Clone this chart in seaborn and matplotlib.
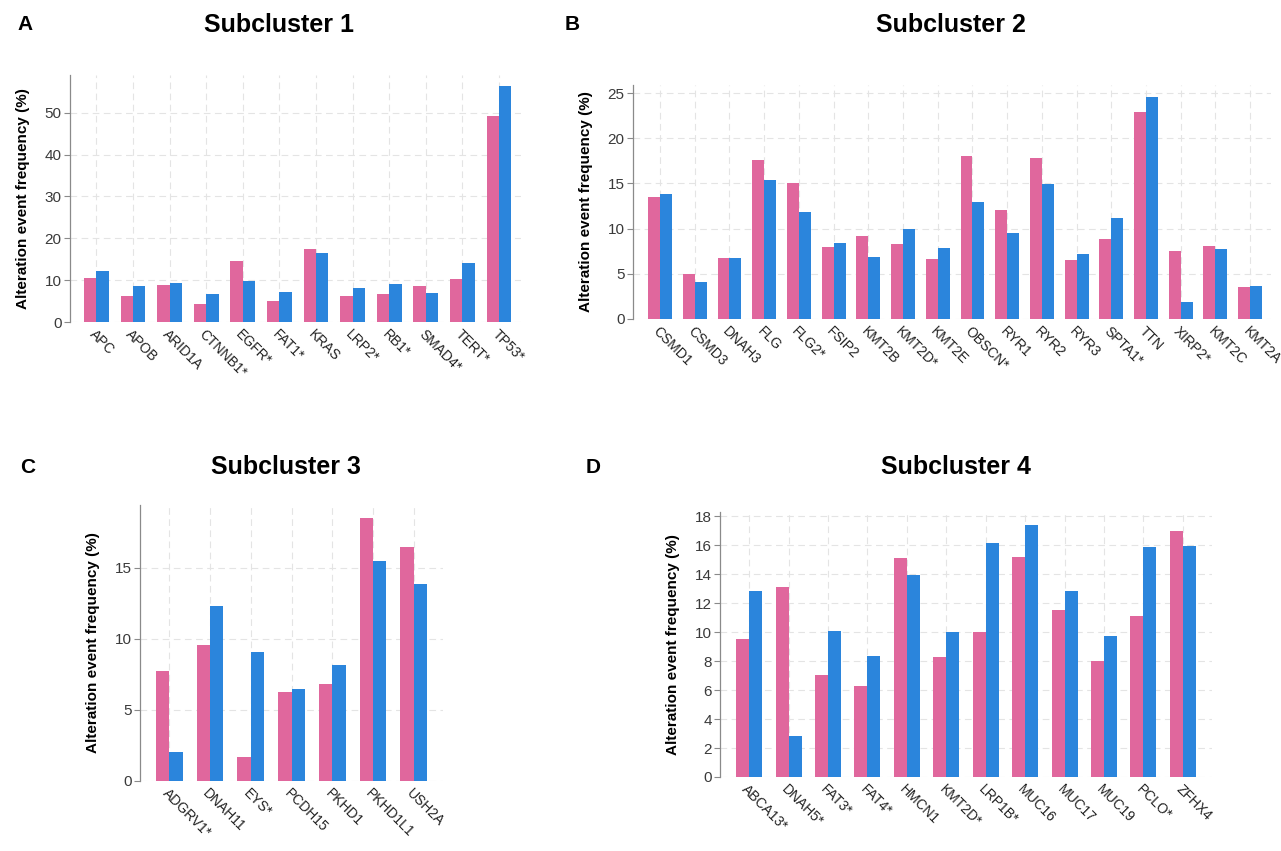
import matplotlib
matplotlib.use("Agg")
import matplotlib.pyplot as plt
import seaborn as sns
import pandas as pd

sns.set_theme(style="white")
plt.rcParams['font.family'] = ['Liberation Sans', 'DejaVu Sans']

PINK = '#E0679D'
BLUE = '#2B85DC'
groups = ['Group 1', 'Group 2']

# ---- data ----
genes1 = ['APC', 'APOB', 'ARID1A', 'CTNNB1*', 'EGFR*', 'FAT1*', 'KRAS', 'LRP2*', 'RB1*', 'SMAD4*', 'TERT*', 'TP53*']
pink1 = [10.6, 6.2, 8.9, 4.3, 14.6, 5.0, 17.4, 6.3, 6.7, 8.6, 10.2, 49.3]
blue1 = [12.1, 8.7, 9.3, 6.6, 9.8, 7.2, 16.5, 8.2, 9.1, 7.0, 14.0, 56.3]

genes2 = ['CSMD1', 'CSMD3', 'DNAH3', 'FLG', 'FLG2*', 'FSIP2', 'KMT2B', 'KMT2D*', 'KMT2E', 'OBSCN*',
          'RYR1', 'RYR2', 'RYR3', 'SPTA1*', 'TTN', 'XIRP2*', 'KMT2C', 'KMT2A']
pink2 = [13.5, 5.0, 6.7, 17.6, 15.1, 8.0, 9.2, 8.3, 6.65, 18.0, 12.1, 17.8, 6.5, 8.8, 22.9, 7.5, 8.1, 3.5]
blue2 = [13.8, 4.1, 6.7, 15.4, 11.8, 8.4, 6.9, 10.0, 7.9, 12.9, 9.5, 14.9, 7.2, 11.2, 24.6, 1.9, 7.8, 3.6]

genes3 = ['ADGRV1*', 'DNAH11', 'EYS*', 'PCDH15', 'PKHD1', 'PKHD1L1', 'USH2A']
pink3 = [7.7, 9.56, 1.7, 6.26, 6.83, 18.46, 16.46]
blue3 = [2.05, 12.27, 9.1, 6.47, 8.17, 15.49, 13.87]

genes4 = ['ABCA13*', 'DNAH5*', 'FAT3*', 'FAT4*', 'HMCN1', 'KMT2D*', 'LRP1B*', 'MUC16', 'MUC17', 'MUC19', 'PCLO*', 'ZFHX4']
pink4 = [9.52, 13.1, 7.03, 6.25, 15.13, 8.28, 10.0, 15.17, 11.54, 7.98, 11.13, 16.97]
blue4 = [12.83, 2.85, 10.09, 8.39, 13.93, 9.98, 16.14, 17.4, 12.83, 9.77, 15.9, 15.95]

yticks1 = [0, 10, 20, 30, 40, 50]
yticks2 = [0, 5, 10, 15, 20, 25]
yticks3 = [0, 5, 10, 15]
yticks4 = [0, 2, 4, 6, 8, 10, 12, 14, 16, 18]

W, H = 1281, 851
fig = plt.figure(figsize=(W / 100, H / 100), dpi=100)


def make_ax(left, right, top, bottom):
    return fig.add_axes([left / W, 1 - bottom / H, (right - left) / W, (bottom - top) / H])


def panel(ax, genes, pink, blue, yticks, ylim, xlim, width):
    df = pd.DataFrame({
        'gene': genes * 2,
        'value': pink + blue,
        'group': [groups[0]] * len(genes) + [groups[1]] * len(genes),
    })
    sns.barplot(data=df, x='gene', y='value', hue='group', palette=[PINK, BLUE],
                width=width, saturation=1, legend=False, ax=ax, edgecolor='none', linewidth=0)
    ax.set_ylim(*ylim)
    ax.set_xlim(*xlim)
    ax.set_yticks(yticks)
    ax.set_xlabel('')
    ax.set_ylabel('Alteration event frequency (%)', fontsize=11, fontweight='bold', color='black')
    ax.yaxis.set_label_coords(-40 / (ax.get_position().width * W), 0.5)
    for s in ['top', 'right', 'bottom']:
        ax.spines[s].set_visible(False)
    ax.spines['left'].set_color('#8a8a8a')
    ax.spines['left'].set_linewidth(0.9)
    ax.grid(True, which='major', axis='both', linestyle=(0, (6, 4)), color='#e4e4e4', linewidth=0.8)
    ax.set_axisbelow(True)
    ax.tick_params(axis='y', which='major', left=True, length=4, width=0.8, color='#8a8a8a',
                   labelsize=11, labelcolor='#3a3a3a', pad=2)
    ax.tick_params(axis='x', which='major', bottom=False, length=0, labelsize=10,
                   labelcolor='#222222', pad=4)
    for lab in ax.get_xticklabels():
        lab.set_rotation(-45)
        lab.set_ha('left')
        lab.set_va('top')
        lab.set_rotation_mode('anchor')


axA = make_ax(70, 521, 75, 322)
panel(axA, genes1, pink1, blue1, yticks1, (0, 59), (-0.72, 11.6), 0.68)

axB = make_ax(633, 1271, 85, 319)
panel(axB, genes2, pink2, blue2, yticks2, (0, 25.9), (-0.78, 17.6), 0.69)

axC = make_ax(140, 443, 505, 781)
panel(axC, genes3, pink3, blue3, yticks3, (0, 19.4), (-0.72, 6.72), 0.66)

axD = make_ax(720, 1212, 512, 777)
panel(axD, genes4, pink4, blue4, yticks4, (0, 18.3), (-0.74, 11.74), 0.66)

letter_font = ['Liberation Sans', 'DejaVu Sans']
title_font = ['Liberation Sans', 'DejaVu Sans']


def ftext(x, y, s, size, family):
    fig.text(x / W, 1 - y / H, s, ha='center', va='center', fontsize=size,
             fontweight='bold', family=family, color='black')


ftext(25, 25, 'A', 15, letter_font)
ftext(572, 25, 'B', 15, letter_font)
ftext(28, 467, 'C', 15, letter_font)
ftext(593, 467, 'D', 15, letter_font)
ftext(279, 25, 'Subcluster 1', 18, title_font)
ftext(951, 25, 'Subcluster 2', 18, title_font)
ftext(286, 467, 'Subcluster 3', 18, title_font)
ftext(956, 467, 'Subcluster 4', 18, title_font)

fig.savefig('out.png', dpi=100, facecolor='white')
